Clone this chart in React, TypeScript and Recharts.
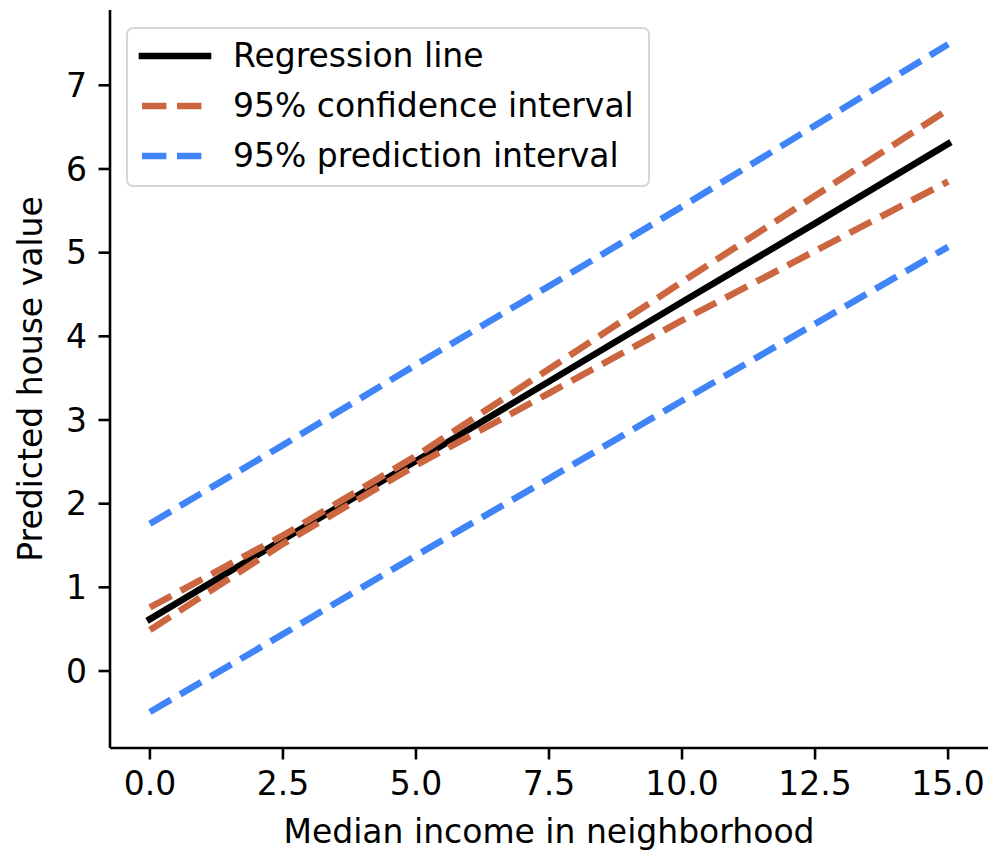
import { LineChart, Line, XAxis, YAxis, Label } from 'recharts';

// values
const incomes = [0, 2.5, 5, 7.5, 10, 12.5, 15];
const regressionLine = [0.62, 1.57, 2.51, 3.46, 4.41, 5.35, 6.3];
const confidenceUpper = [0.76, 1.62, 2.57, 3.61, 4.65, 5.68, 6.71];
const confidenceLower = [0.49, 1.52, 2.46, 3.32, 4.19, 5.02, 5.85];
const predictionUpper = [1.76, 2.7, 3.66, 4.6, 5.55, 6.52, 7.49];
const predictionLower = [-0.49, 0.44, 1.38, 2.3, 3.23, 4.15, 5.07];

const xTicks = [0, 2.5, 5, 7.5, 10, 12.5, 15];
const yTicks = [0, 1, 2, 3, 4, 5, 6, 7];

const FONT = '"DejaVu Sans", sans-serif';
const ORANGE = '#cc6640';
const BLUE = '#3f84f8';
const LW = 6.6;
const DASH = '24.4 10.6';

const data = incomes.map((x, i) => ({
  x,
  reg: regressionLine[i],
  ciHi: confidenceUpper[i],
  ciLo: confidenceLower[i],
  piHi: predictionUpper[i],
  piLo: predictionLower[i],
}));

const legendItems = [
  { label: 'Regression line', color: '#000', dash: undefined },
  { label: '95% confidence interval', color: ORANGE, dash: DASH },
  { label: '95% prediction interval', color: BLUE, dash: DASH },
];

// legend drawn as an overlay so it doesn't eat into the plot area
const LegendBox = () => (
  <div
    style={{
      position: 'absolute',
      left: 126,
      top: 27,
      boxSizing: 'border-box',
      width: 524,
      height: 160,
      padding: '2px 0 8px 10px',
      border: '2.6px solid #d6d6d6',
      borderRadius: 7,
      background: 'rgba(255,255,255,0.8)',
      fontFamily: FONT,
      fontSize: 33,
      color: '#000',
    }}
  >
    {legendItems.map((it) => (
      <div key={it.label} style={{ height: 50, display: 'flex', alignItems: 'center' }}>
        <svg width={74} height={12} style={{ flex: 'none' }}>
          <line
            x1={4}
            x2={70}
            y1={6}
            y2={6}
            stroke={it.color}
            strokeWidth={LW}
            strokeDasharray={it.dash}
            strokeLinecap={it.dash ? 'butt' : 'square'}
          />
        </svg>
        <span style={{ marginLeft: 21, lineHeight: '50px', whiteSpace: 'nowrap' }}>{it.label}</span>
      </div>
    ))}
  </div>
);

const tickStyle = { fill: '#000', fontSize: 33, fontFamily: FONT };
const axisStroke = { stroke: '#000', strokeWidth: 2.6 };

export default function App() {
  return (
    <div style={{ position: 'absolute', left: 0, top: 0, width: 990, height: 850, background: '#fff' }}>
      <LineChart width={990} height={850} data={data} margin={{ top: 10, right: 2, bottom: 22, left: 40 }}>
        <XAxis
          dataKey="x"
          type="number"
          domain={[-0.75, 15.75]}
          ticks={xTicks}
          interval={0}
          allowDataOverflow
          tickFormatter={(v: number) => v.toFixed(1)}
          height={80}
          tickSize={11.5}
          tickMargin={12}
          tick={tickStyle}
          axisLine={axisStroke}
          tickLine={axisStroke}
        >
          <Label
            content={() => (
              <text x={549} y={843} textAnchor="middle" fontFamily={FONT} fontSize={33} fill="#000">
                Median income in neighborhood
              </text>
            )}
          />
        </XAxis>
        <YAxis
          type="number"
          domain={[-0.92, 7.9]}
          ticks={yTicks}
          interval={0}
          allowDataOverflow
          width={70}
          tickSize={11.5}
          tickMargin={11.5}
          tick={tickStyle}
          axisLine={axisStroke}
          tickLine={axisStroke}
        >
          <Label
            content={() => (
              <text
                x={42}
                y={379}
                textAnchor="middle"
                transform="rotate(-90, 42, 379)"
                fontFamily={FONT}
                fontSize={33}
                fill="#000"
              >
                Predicted house value
              </text>
            )}
          />
        </YAxis>
        <Line type="linear" dataKey="reg" stroke="#000" strokeWidth={LW} strokeLinecap="square" dot={false} activeDot={false} isAnimationActive={false} />
        <Line type="linear" dataKey="ciHi" stroke={ORANGE} strokeWidth={LW} strokeDasharray={DASH} dot={false} activeDot={false} isAnimationActive={false} />
        <Line type="linear" dataKey="ciLo" stroke={ORANGE} strokeWidth={LW} strokeDasharray={DASH} dot={false} activeDot={false} isAnimationActive={false} />
        <Line type="linear" dataKey="piHi" stroke={BLUE} strokeWidth={LW} strokeDasharray={DASH} dot={false} activeDot={false} isAnimationActive={false} />
        <Line type="linear" dataKey="piLo" stroke={BLUE} strokeWidth={LW} strokeDasharray={DASH} dot={false} activeDot={false} isAnimationActive={false} />
      </LineChart>
      <LegendBox />
    </div>
  );
}
